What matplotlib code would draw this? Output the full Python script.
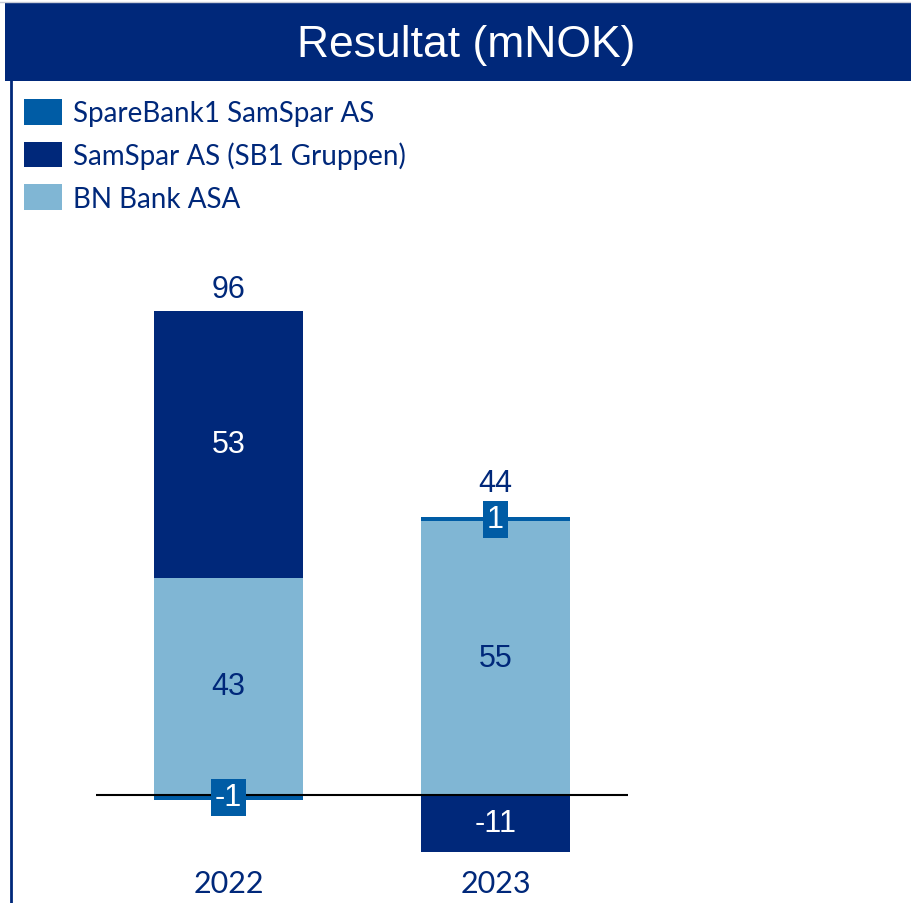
import matplotlib.pyplot as plt
from matplotlib.patches import Patch, Rectangle
from matplotlib.lines import Line2D

years = ["2022", "2023"]
series = ["SpareBank1 SamSpar AS", "SamSpar AS (SB1 Gruppen)", "BN Bank ASA"]
spb1 = [-1.0, 0.8]
samspar = [53.2, -11.3]
bnbank = [43.4, 54.6]
totals = [96, 44]

navy = "#00287A"
mid_blue = "#005CA5"
light_blue = "#80B6D4"
txt = "#00287A"
colors = {series[0]: mid_blue, series[1]: navy, series[2]: light_blue}
inner_txt = {series[0]: "white", series[1]: "white", series[2]: txt}

num_font = ["Liberation Sans", "DejaVu Sans"]
cat_font = ["Lato", "DejaVu Sans"]


def main():
    fig = plt.figure(figsize=(9.12, 9.04), dpi=100)

    # title bar and frame
    fig.patches.append(Rectangle((5 / 912, 1 - 82 / 904), 1, 78 / 904, transform=fig.transFigure,
                                 facecolor=navy, edgecolor="none", zorder=0))
    fig.lines.append(Line2D([0, 1], [1 - 3 / 904, 1 - 3 / 904], transform=fig.transFigure,
                            color="#C8CCD8", lw=1))
    fig.lines.append(Line2D([11 / 912, 11 / 912], [0, 1 - 82 / 904], transform=fig.transFigure,
                            color=navy, lw=2))
    fig.text(466 / 912, 1 - 45 / 904, "Resultat (mNOK)", color="white", fontsize=32,
             ha="center", va="center", family=num_font)

    ax = fig.add_axes([96 / 912, 0.0419, 532 / 912, 0.6596])
    ax.set_xlim(-0.496, 1.496)
    ax.set_ylim(-14, 105)
    ax.axis("off")

    width = 0.558
    x = [0, 1]
    stacks = [(series[2], bnbank), (series[0], spb1), (series[1], samspar)]
    for i in x:
        pos = 0
        neg = 0
        small_top = False
        for name, vals in stacks:
            v = vals[i]
            if v >= 0:
                bottom = pos
                pos += v
            else:
                bottom = neg
                neg += v
            ax.bar(i, v, width, bottom=bottom, color=colors[name], zorder=2)
            mid = bottom + v / 2
            label = str(int(round(v)))
            if abs(v) < 5:
                if v > 0:
                    small_top = True
                ax.text(i, mid, label, ha="center", va="center", color="white", fontsize=22,
                        family=num_font, zorder=5,
                        bbox=dict(boxstyle="square,pad=0.12", facecolor=mid_blue, edgecolor="none"))
            else:
                ax.text(i, mid, label, ha="center", va="center", color=inner_txt[name],
                        fontsize=22, family=num_font, zorder=5)
        ax.annotate(str(totals[i]), (i, pos), xytext=(0, 14 if small_top else 5),
                    textcoords="offset points", ha="center", va="bottom", color=txt,
                    fontsize=22, family=num_font, annotation_clip=False)
        ax.annotate(years[i], (i, -14), xytext=(0, -3), textcoords="offset points",
                    ha="center", va="top", color=txt, fontsize=22, family=cat_font,
                    annotation_clip=False)

    ax.axhline(0, color="black", lw=1.5, zorder=4)

    handles = [Patch(facecolor=colors[s], edgecolor="none") for s in series]
    leg = fig.legend(handles, series, loc="upper left", bbox_to_anchor=(24 / 912, 1 - 100 / 904),
                     frameon=False, prop={"family": cat_font, "size": 20},
                     handlelength=1.37, handleheight=1.04, handletextpad=0.4,
                     labelspacing=0.55, borderaxespad=0, borderpad=0)
    for t in leg.get_texts():
        t.set_color(txt)

    fig.savefig("out.png", dpi=100)


if __name__ == "__main__":
    main()
